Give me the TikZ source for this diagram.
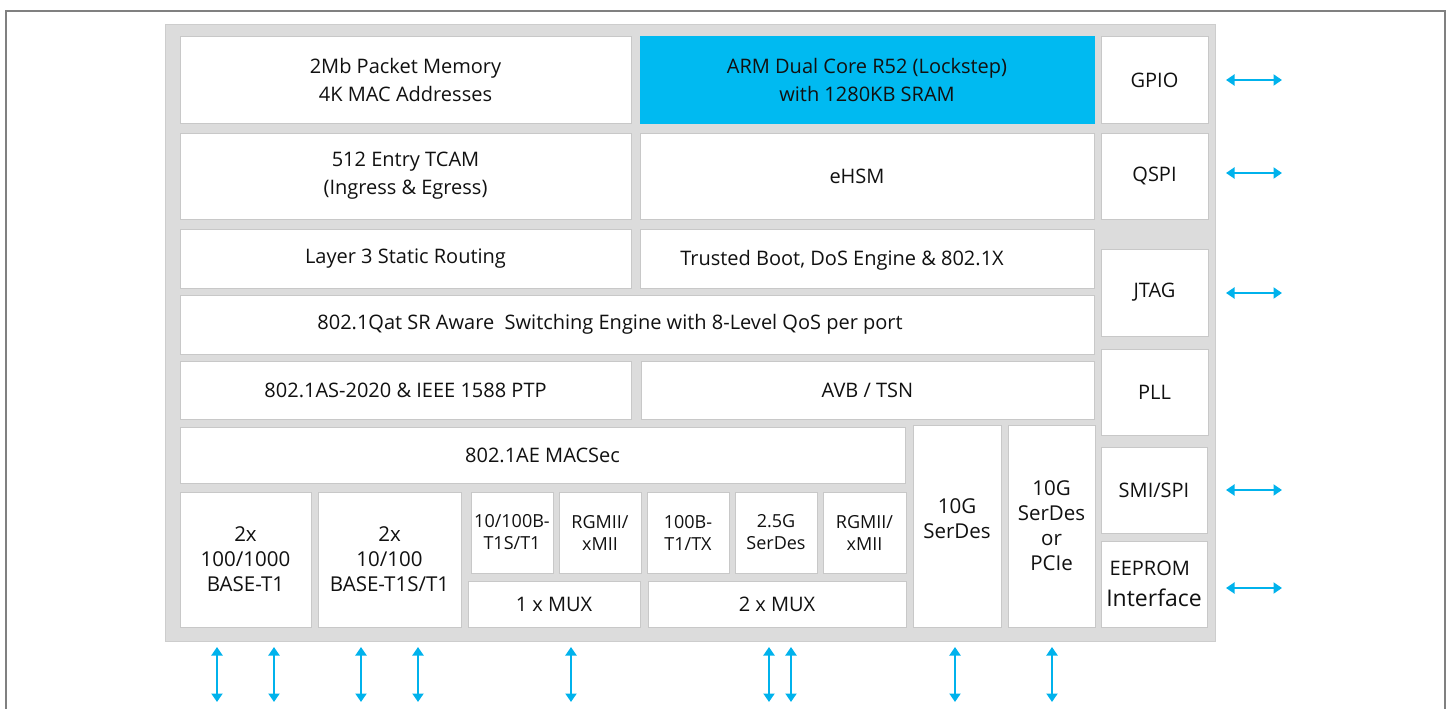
\documentclass[tikz,border=0pt]{standalone}
\usepackage{fontspec}
\setmainfont{Open Sans}
\usetikzlibrary{arrows.meta}
\definecolor{panel}{HTML}{DCDCDC}
\definecolor{paneledge}{HTML}{CDCDCD}
\definecolor{edge}{HTML}{C8C8C8}
\definecolor{armblue}{HTML}{00BAF1}
\definecolor{arrowblue}{HTML}{00B2EC}
\definecolor{framegray}{HTML}{808080}
\definecolor{ink}{HTML}{111111}
\tikzset{
  blk/.style={draw=edge, fill=white, line width=1bp, inner sep=0pt, align=center,
    text=ink, font=\fontsize{20bp}{28bp}\selectfont},
  smalltxt/.style={font=\fontsize{18bp}{22bp}\selectfont},
  midtxt/.style={font=\fontsize{20.5bp}{25bp}\selectfont},
  plaintxt/.style={inner sep=0pt, align=center, text=ink, font=\fontsize{20bp}{28bp}\selectfont},
  biarrow/.style={draw=arrowblue, line width=2bp,
    {Triangle[width=11bp,length=8.5bp]}-{Triangle[width=11bp,length=8.5bp]}}
}
\newcommand\blk[7][]{%
  \node[blk, #1, minimum width={(#5-#3)*1bp}, minimum height={(#6-#4)*1bp}]
    (#2) at ({(#3+#5)/2},{(#4+#6)/2}) {#7};}
\begin{document}
\begin{tikzpicture}[x=1bp,y=-1bp]
\useasboundingbox (0,0) rectangle (1449,709);
% outer frame
\draw[framegray, line width=1.3bp] (6,709) -- (6,11) -- (1445,11) -- (1445,709);
% grey panel
\node[draw=paneledge, fill=panel, line width=1bp, inner sep=0pt,
  minimum width=1049bp, minimum height=616bp] (panel) at (690.5,333) {};
% row 1
\blk{mem}{180}{37}{631}{124}{2Mb Packet Memory\\4K MAC Addresses}
\blk[fill=armblue, draw=armblue]{arm}{640}{37}{1094}{124}{ARM Dual Core R52 (Lockstep)\\with 1280KB SRAM}
\blk{gpio}{1101}{37}{1208}{124}{GPIO}
% row 2
\blk{tcam}{180}{133}{631}{219}{512 Entry TCAM\\(Ingress \& Egress)}
\blk{ehsm}{640}{133}{1094}{219}{}
\node[plaintxt] at ([xshift=-10bp]ehsm.center) {eHSM};
\blk{qspi}{1101}{133}{1208}{219}{QSPI}
% row 3
\blk{l3}{180}{229}{631}{288}{Layer 3 Static Routing}
\blk{tb}{640}{229}{1094}{288}{}
\node[plaintxt] at ([xshift=-25bp,yshift=-2bp]tb.center) {Trusted Boot, DoS Engine \& 802.1X};
\blk{jtag}{1101}{249}{1208}{336}{JTAG}
% row 4
\blk{qat}{180}{295}{1094}{354}{}
\node[plaintxt] at ([xshift=-27bp]qat.center) {802.1Qat SR Aware\ \ Switching Engine with 8-Level QoS per port};
\blk{pll}{1101}{349}{1208}{435}{PLL}
% row 5
\blk{ptp}{180}{361}{631}{419}{802.1AS-2020 \& IEEE 1588 PTP}
\blk{avb}{641}{361}{1094}{419}{AVB / TSN}
% row 6
\blk{macsec}{180}{427}{905}{483}{802.1AE MACSec}
\blk[midtxt]{sdA}{913}{425}{1001}{627}{10G\\SerDes\vspace{14bp}}
\blk[midtxt]{sdB}{1008}{425}{1095}{627}{10G\\SerDes\\or\\PCIe}
\blk{smi}{1101}{447}{1207}{533}{SMI/SPI}
\blk[align=left, font=\fontsize{20bp}{31bp}\selectfont]{eeprom}{1101}{541}{1207}{627}{\,EEPROM\\{\fontsize{23bp}{31bp}\selectfont Interface}}
% bottom row
\blk[midtxt]{tA}{180}{492}{311}{627}{2x\\100/1000\\BASE-T1}
\blk[midtxt]{tB}{318}{492}{461}{627}{2x\\10/100\\BASE-T1S/T1}
\blk[smalltxt]{pA}{471}{492}{553}{573}{10/100B-\\T1S/T1}
\blk[smalltxt]{pB}{559}{492}{641}{573}{RGMII/\\xMII}
\blk[smalltxt]{pC}{647}{492}{729}{573}{100B-\\T1/TX}
\blk[smalltxt]{pD}{735}{492}{817}{573}{2.5G\\SerDes}
\blk[smalltxt]{pE}{823}{492}{906}{573}{RGMII/\\xMII}
\blk{muxA}{468}{581}{640}{627}{1 x MUX}
\blk{muxB}{648}{581}{906}{627}{2 x MUX}
% right-side arrows
\foreach \n/\y in {gpio/80, qspi/173, jtag/293, smi/490, eeprom/588}{
  \coordinate (\n-l) at (1226,\y);
  \coordinate (\n-r) at (1282,\y);
  \draw[biarrow] (\n-l) -- (\n-r);
}
% bottom arrows
\foreach \i/\x in {1/217, 2/274, 3/361, 4/418, 5/571, 6/769, 7/791, 8/955, 9/1052}{
  \coordinate (b\i-t) at (\x,647);
  \coordinate (b\i-b) at (\x,702);
  \draw[biarrow] (b\i-t) -- (b\i-b);
}
\end{tikzpicture}
\end{document}
